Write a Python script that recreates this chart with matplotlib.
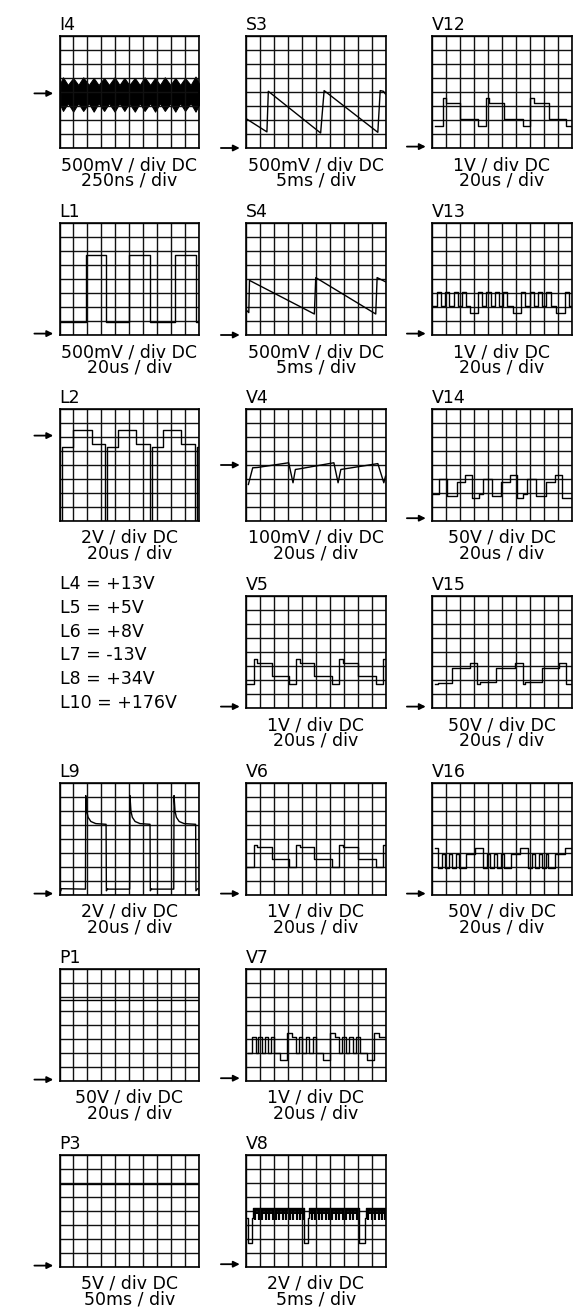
import matplotlib.pyplot as plt

plt.rcParams['font.family'] = ['DejaVu Sans']

W, H = 588, 1315
col_left = [59.5, 246, 432]
row_top = [36, 223, 409, 596, 783, 969, 1155]
PW, PH = 139.5, 112
FS = 12.5

panel_names = ['I4', 'S3', 'V12', 'L1', 'S4', 'V13', 'L2', 'V4', 'V14',
               'V5', 'V15', 'L9', 'V6', 'V16', 'P1', 'V7', 'P3', 'V8']
panel_rows = [0, 0, 0, 1, 1, 1, 2, 2, 2, 3, 3, 4, 4, 4, 5, 5, 6, 6]
panel_cols = [0, 1, 2, 0, 1, 2, 0, 1, 2, 1, 2, 0, 1, 2, 0, 1, 0, 1]
volt_labels = ['500mV / div DC', '500mV / div DC', '1V / div DC',
               '500mV / div DC', '500mV / div DC', '1V / div DC',
               '2V / div DC', '100mV / div DC', '50V / div DC',
               '1V / div DC', '50V / div DC', '2V / div DC',
               '1V / div DC', '50V / div DC', '50V / div DC',
               '1V / div DC', '5V / div DC', '2V / div DC']
time_labels = ['250ns / div', '5ms / div', '20us / div',
               '20us / div', '5ms / div', '20us / div',
               '20us / div', '20us / div', '20us / div',
               '20us / div', '20us / div', '20us / div',
               '20us / div', '20us / div', '20us / div',
               '20us / div', '50ms / div', '5ms / div']
zero_levels = [3.9, 0, 0.1, 0.1, 0, 0.1, 6.1, 4, 0.2, 0.1, 0.1, 0.1, 0.1, 0.1, 0.1, 0.2, 0.1, 0.2]

supply_labels = ['L4 = +13V', 'L5 = +5V', 'L6 = +8V', 'L7 = -13V', 'L8 = +34V', 'L10 = +176V']

# ---- traces, in divisions (x 0..10, y 0..8) ----
i4_x = [0.0, 0.25, 0.6, 0.98, 1.35, 1.7, 2.1, 2.45, 2.8, 3.2, 3.55, 3.95, 4.3, 4.65, 5.0,
        5.4, 5.75, 6.1, 6.5, 6.85, 7.2, 7.55, 7.95, 8.3, 8.65, 9.0, 9.4, 9.75, 10.0]
i4_top = [4.5, 5.05, 4.5, 5.0, 4.5, 5.05, 4.5, 5.0, 4.5, 5.0, 4.5, 5.05, 4.5, 5.0, 4.5,
          5.0, 4.5, 5.05, 4.5, 5.0, 4.5, 5.05, 4.5, 5.0, 4.5, 5.0, 4.5, 5.1, 4.6]
i4_bot = [3.2, 2.65, 3.2, 2.6, 3.2, 2.65, 3.2, 2.6, 3.2, 2.65, 3.2, 2.6, 3.2, 2.65, 3.2,
          2.6, 3.2, 2.65, 3.2, 2.6, 3.2, 2.65, 3.2, 2.6, 3.2, 2.65, 3.2, 2.6, 3.1]

s3_x = [0.0, 1.5, 1.6, 5.35, 5.6, 9.45, 9.62, 9.85, 10.0]
s3_y = [2.1, 1.15, 4.05, 1.07, 4.1, 1.12, 4.1, 4.05, 3.85]

v12_t = [0.2, 0.78, 1.03, 1.99, 3.3, 3.86, 4.1, 5.17, 6.53, 7.06, 7.3, 8.4, 9.64, 10.0]
v12_v = [1.6, 3.57, 3.2, 2.1, 1.55, 3.57, 3.2, 2.1, 1.55, 3.57, 3.2, 2.1, 1.55, 1.55]

l1_t = [0.0, 1.89, 3.34, 5.01, 6.49, 8.28, 9.76, 10.0]
l1_v = [0.9, 5.68, 0.9, 5.68, 0.9, 5.68, 0.9, 0.9]

s4_x = [0.0, 0.2, 0.25, 4.9, 5.0, 9.3, 9.4, 10.0]
s4_y = [1.8, 1.6, 3.9, 1.5, 4.1, 1.5, 4.1, 3.8]

v13_t = [0.1, 0.35, 0.65, 0.95, 1.25, 1.55, 1.85, 2.15, 2.45, 2.7, 3.3, 3.6, 3.9, 4.2,
         4.5, 4.8, 5.1, 5.4, 5.8, 6.4, 6.7, 7.0, 7.3, 7.6, 7.9, 8.2, 8.5, 8.9, 9.5, 9.8, 10.0]
v13_v = [2.1, 3.1, 2.1, 3.1, 2.1, 3.1, 2.1, 3.1, 2.1, 1.6, 3.1, 2.1, 3.1, 2.1,
         3.1, 2.1, 3.1, 2.1, 1.6, 3.1, 2.1, 3.1, 2.1, 3.1, 2.1, 3.1, 2.1, 1.6, 3.1, 2.1, 2.1]

l2_t = [0.0, 0.15, 1.0, 2.3, 3.25, 3.4, 4.2, 5.5, 6.5, 6.65, 7.4, 8.7, 9.7, 9.85, 10.0]
l2_v = [0.0, 5.3, 6.5, 5.5, 0.0, 5.3, 6.5, 5.5, 0.0, 5.3, 6.5, 5.5, 0.0, 5.3, 5.3]

v4_x = [0.17, 0.48, 0.8, 3.06, 3.37, 3.54, 3.8, 6.3, 6.6, 6.8, 7.05, 9.45, 9.88, 10.0]
v4_y = [2.61, 3.8, 3.82, 4.16, 2.73, 3.68, 3.72, 4.16, 2.73, 3.68, 3.72, 4.1, 2.73, 3.2]

v14_t = [0.07, 0.48, 1.1, 1.79, 2.34, 2.9, 3.35, 3.66, 4.33, 4.98, 5.57, 6.1, 6.55, 6.84,
         7.49, 8.2, 8.8, 9.35, 10.0]
v14_v = [1.9, 2.98, 1.79, 2.8, 3.27, 1.67, 1.95, 2.98, 1.79, 2.8, 3.27, 1.67, 1.95, 2.98,
         1.79, 2.8, 3.27, 1.67, 1.67]

v5_t = [0.1, 0.55, 0.8, 1.85, 3.1, 3.6, 3.85, 4.9, 6.2, 6.7, 6.95, 8.0, 9.3, 9.8, 10.0]
v5_v = [1.7, 3.5, 3.2, 2.3, 1.7, 3.5, 3.2, 2.3, 1.7, 3.5, 3.2, 2.3, 1.7, 3.5, 3.5]

v15_t = [0.19, 0.4, 1.44, 2.75, 3.25, 3.45, 4.62, 5.93, 6.53, 6.7, 7.85, 9.11, 9.64, 10.0]
v15_v = [1.68, 1.82, 2.87, 3.23, 1.72, 1.85, 2.87, 3.23, 1.72, 1.85, 2.87, 3.23, 1.72, 1.72]

l9_x = [0.0, 0.1, 0.12, 1.86, 1.88, 1.95, 2.05, 2.25, 2.6, 3.34, 3.36, 3.45, 3.5,
        5.03, 5.05, 5.12, 5.22, 5.42, 5.77, 6.49, 6.51, 6.6, 6.65,
        8.19, 8.21, 8.28, 8.38, 8.58, 8.93, 9.76, 9.78, 9.9, 10.0]
l9_y = [0.3, 0.3, 0.45, 0.42, 7.1, 6.0, 5.55, 5.25, 5.1, 5.05, 0.3, 0.45, 0.42,
        0.42, 7.1, 6.0, 5.55, 5.25, 5.1, 5.05, 0.3, 0.45, 0.42,
        0.42, 7.1, 6.0, 5.55, 5.25, 5.1, 5.05, 0.3, 0.45, 0.42]

v6_t = [0.1, 0.55, 0.8, 1.85, 3.1, 3.6, 3.85, 4.9, 6.2, 6.7, 6.95, 8.0, 9.3, 9.8, 10.0]
v6_v = [2.0, 3.6, 3.4, 2.6, 2.0, 3.6, 3.4, 2.6, 2.0, 3.6, 3.4, 2.6, 2.0, 3.6, 3.6]

v16_t = [0.19, 0.45, 0.75, 0.95, 1.25, 1.45, 1.75, 1.95, 2.45, 3.1, 3.65, 3.95, 4.15, 4.45,
         4.65, 4.95, 5.15, 5.65, 6.3, 6.85, 7.15, 7.35, 7.65, 7.85, 8.15, 8.35, 8.85, 9.5, 10.0]
v16_v = [3.33, 1.96, 2.92, 1.96, 2.92, 1.96, 2.92, 1.96, 2.92, 3.33, 1.96, 2.92, 1.96, 2.92,
         1.96, 2.92, 1.96, 2.92, 3.33, 1.96, 2.92, 1.96, 2.92, 1.96, 2.92, 1.96, 2.92, 3.33, 3.33]

p1_x = [0.0, 10.0]
p1_y = [5.8, 5.8]

v7_t = [0.17, 0.46, 0.72, 0.89, 1.13, 1.37, 1.61, 1.81, 2.02, 2.46, 2.94, 3.3, 3.55, 3.8,
        4.05, 4.3, 4.55, 4.8, 5.05, 5.55, 6.05, 6.4, 6.65, 6.9, 7.15, 7.4, 7.65, 7.9, 8.15,
        8.65, 9.15, 9.5, 10.0]
v7_v = [2.0, 3.16, 2.0, 3.16, 2.0, 3.16, 2.0, 3.16, 2.0, 1.53, 3.4, 3.16, 2.0, 3.16,
        2.0, 3.16, 2.0, 3.16, 2.0, 1.53, 3.4, 3.16, 2.0, 3.16, 2.0, 3.16, 2.0, 3.16, 2.0,
        1.53, 3.4, 3.16, 3.16]

p3_x = [0.0, 10.0]
p3_y = [5.9, 5.9]

v8_x = [0.0, 0.17, 0.17, 0.4, 0.4, 0.53, 0.53, 4.19, 4.19, 4.43, 4.43, 4.5, 4.5,
        8.12, 8.12, 8.53, 8.53, 8.6, 8.6, 10.0]
v8_y = [3.5, 3.5, 1.68, 1.68, 3.5, 3.5, 4.2, 4.2, 1.68, 1.68, 3.5, 3.5, 4.2,
        4.2, 1.68, 1.68, 3.5, 3.5, 4.2, 4.2]
v8_comb_x = [0.53, 4.19, 4.5, 8.12, 8.6, 10.0]
v8_spikes = [0.65, 0.9, 1.15, 1.4, 1.65, 1.9, 2.15, 2.4, 2.65, 2.9, 3.15, 3.4, 3.65, 3.9, 4.1,
             4.7, 4.95, 5.2, 5.45, 5.7, 5.95, 6.2, 6.45, 6.7, 6.95, 7.2, 7.45, 7.7, 7.95,
             8.75, 9.0, 9.25, 9.5, 9.75, 9.95]

line_traces = {'S3': (s3_x, s3_y), 'S4': (s4_x, s4_y), 'V4': (v4_x, v4_y),
               'L9': (l9_x, l9_y), 'P1': (p1_x, p1_y), 'P3': (p3_x, p3_y),
               'V8': (v8_x, v8_y)}
step_traces = {'V12': (v12_t, v12_v), 'L1': (l1_t, l1_v), 'V13': (v13_t, v13_v),
               'L2': (l2_t, l2_v), 'V14': (v14_t, v14_v), 'V5': (v5_t, v5_v),
               'V15': (v15_t, v15_v), 'V6': (v6_t, v6_v), 'V16': (v16_t, v16_v),
               'V7': (v7_t, v7_v)}

fig = plt.figure(figsize=(W / 100, H / 100), dpi=100)

for i, name in enumerate(panel_names):
    left = col_left[panel_cols[i]]
    top = row_top[panel_rows[i]]
    ax = fig.add_axes([left / W, 1 - (top + PH) / H, PW / W, PH / H])
    ax.set_xlim(0, 10)
    ax.set_ylim(0, 8)
    ax.set_xticks(range(11))
    ax.set_yticks(range(9))
    ax.grid(True, color='#111111', lw=1.0)
    ax.tick_params(length=0, labelbottom=False, labelleft=False)
    for sp in ax.spines.values():
        sp.set_linewidth(1.2)

    if name in line_traces:
        x, y = line_traces[name]
        ax.plot(x, y, color='black', lw=1.0)
    if name in step_traces:
        t, v = step_traces[name]
        ax.plot(t, v, color='black', lw=1.0, drawstyle='steps-post')
    if name == 'I4':
        ax.fill_between(i4_x, i4_bot, i4_top, color='black', lw=0.8)
    if name == 'V8':
        for a, b in zip(v8_comb_x[::2], v8_comb_x[1::2]):
            ax.fill_between([a, b], [3.78, 3.78], [4.2, 4.2], color='black', lw=0)
        ax.vlines(v8_spikes, 3.35, 4.2, color='black', lw=1.6)

    ax.annotate('', xy=(-0.45, zero_levels[i]), xytext=(-1.8, zero_levels[i]),
                xycoords='data', annotation_clip=False,
                arrowprops=dict(arrowstyle='-|>', color='black', lw=1.3,
                                mutation_scale=9, shrinkA=0, shrinkB=0))

    fig.text(left / W, 1 - (top - 6) / H, name, ha='left', va='baseline', fontsize=FS)
    cx = (left + PW / 2) / W
    fig.text(cx, 1 - (top + PH + 22) / H, volt_labels[i], ha='center', va='baseline', fontsize=FS)
    fig.text(cx, 1 - (top + PH + 37.5) / H, time_labels[i], ha='center', va='baseline', fontsize=FS)

for k, s in enumerate(supply_labels):
    fig.text(col_left[0] / W, 1 - (589 + 23.8 * k) / H, s, ha='left', va='baseline', fontsize=FS)

fig.savefig('out.png', dpi=100)
